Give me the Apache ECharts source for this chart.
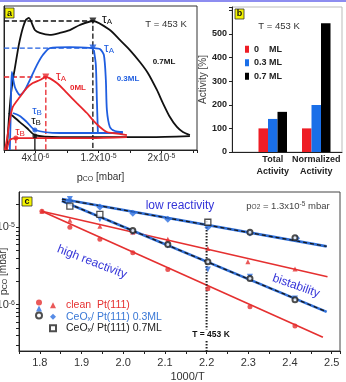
<!DOCTYPE html>
<html><head><meta charset="utf-8">
<script src="https://cdn.jsdelivr.net/npm/echarts@6/dist/echarts.min.js"></script>
<style>html,body{margin:0;padding:0;background:#fff}#c{width:346px;height:382px}</style>
</head><body><div id="c"></div>
<script>
// ---------- Panel a : rate (arb. units) vs pCO (units of 1e-6 mbar) ----------
const aBlackFwdX = [0.36,0.61,0.87,1.12,1.38,1.76,2.01,2.39,2.77,3.15,3.92,4.55,5.82,7.09,8.36,9.63,11.28,13.44,14.71,15.98,17.25,18.26,19.41,20.17,21.06,21.95,22.71,23.6];
const aBlackFwdY = [0,2.08,3.82,4.86,5.69,6.94,7.64,8.47,9.03,9.17,8.33,8.13,7.99,8.13,8.33,8.68,8.96,8.33,7.64,6.94,6.11,5.35,4.17,3.26,2.29,1.60,1.25,1.04];
const aBlackBackX = [23.6,18.52,12.17,7.09,3.92,2.90,2.01,1.12,0.61];
const aBlackBackY = [0.97,0.90,0.90,0.90,1.04,1.53,1.94,2.36,2.57];
const aBlueFwdX = [0.74,0.87,0.99,1.38,2.01,2.65,3.28,4.17,4.93,5.82,8.36,11.28,12.17,12.68,12.93,13.06,13.44,14.07,15.09];
const aBlueFwdY = [0,2.78,5.42,4.38,3.82,4.17,4.86,5.90,6.60,7.08,7.15,7.08,7.01,6.60,4.86,2.78,1.60,1.32,1.25];
const aBlueBackX = [15.09,11.92,7.09,3.92,2.90,2.01,1.12];
const aBlueBackY = [1.18,1.18,1.18,1.39,1.94,2.36,2.57];
const aBlueJumpX = [11.92,11.79,11.66,11.41];
const aBlueJumpY = [1.18,3.47,5.90,6.94];
const aRedFwdX = [0.1,0.36,0.74,1.12,2.01,2.90,3.66,4.55,5.31,6.71,7.98,9.25,10.52,11.28,12.17,13.06,13.82,15.60];
const aRedFwdY = [0,0.69,2.08,2.99,3.68,4.31,4.65,4.86,5.07,4.65,3.96,3.26,2.57,2.08,1.60,1.25,1.18,1.04];
const aRedBackX = [15.60,10.90,5.82,1.50,0.74,0.36];
const aRedBackY = [0.90,0.83,0.83,0.83,0.69,0];
// tau_A points (black, blue, red) and tau_B points (blue, black, red)
const aTauAX = [11.28, 11.28, 5.31];
const aTauAY = [8.96, 7.08, 5.07];
const aTauBX = [3.92, 3.92, 1.50];
const aTauBY = [1.39, 0.97, 0.83];
const aTickValues = [4, 12, 20];
const aTickMant = ['4x10', '1.2x10', '2x10'];
const aTickExp = ['-6', '-5', '-5'];

// ---------- Panel b : activity bars ----------
const bCategories = ['Total\nActivity', 'Normalized\nActivity'];
const bSeriesNames = ['0    ML', '0.3 ML', '0.7 ML'];
const b0ML = [100, 100];
const b03ML = [140, 199];
const b07ML = [170, 545];

// ---------- Panel c : Arrhenius-type plot, pCO (mbar) vs 1000/T ----------
const cRedUpX = [1.805,1.872,1.944,2.023,2.107,2.203,2.299,2.412];
const cRedUpY = [1.61e-5,1.23e-5,1.03e-5,8.6e-6,7.0e-6,5.3e-6,3.6e-6,2.9e-6];
const cRedLowX = [1.805,1.872,1.944,2.023,2.107,2.203,2.304,2.412];
const cRedLowY = [1.61e-5,1.0e-5,7.0e-6,4.7e-6,2.85e-6,1.61e-6,9.4e-7,5.3e-7];
const cBlueDiaX = [1.872,1.944,2.023,2.107,2.203,2.304,2.416];
const cBlueDiaY = [2.18e-5,1.82e-5,1.52e-5,1.27e-5,1.0e-5,8.4e-6,7.2e-6];
const cBlueTriX = [1.872,1.944,2.023,2.107,2.203,2.304,2.412];
const cBlueTriY = [2.31e-5,1.27e-5,8.6e-6,5.8e-6,2.85e-6,2.3e-6,1.2e-6];
const cBlackSqX = [1.872,1.944,2.203];
const cBlackSqY = [1.87e-5,1.47e-5,1.16e-5];
const cBlackCircX = [2.023,2.107,2.203,2.304,2.412,2.304,2.412];
const cBlackCircY = [9.1e-6,6.0e-6,3.6e-6,2.18e-6,1.16e-6,8.6e-6,7.3e-6];
// straight fit lines [start, end]
const cFitRedUpX = [1.805, 2.49];   const cFitRedUpY = [1.61e-5, 2.3e-6];
const cFitRedLowX = [1.805, 2.479]; const cFitRedLowY = [1.61e-5, 3.8e-7];
const cFitUpX = [1.853, 2.488];     const cFitUpY = [2.31e-5, 5.66e-6];
const cFitLowX = [1.853, 2.488];    const cFitLowY = [2.18e-5, 8.1e-7];
const cT453 = 2.2; const cT453Top = 1.2e-5;
const cXLabels = [1.8,1.9,2.0,2.1,2.2,2.3,2.4,2.5];
const cYLabels = [1e-6, 1e-5];
const cYTicks = [3e-7,4e-7,5e-7,6e-7,7e-7,8e-7,9e-7,1e-6,2e-6,3e-6,4e-6,5e-6,6e-6,7e-6,8e-6,9e-6,1e-5,2e-5];
const cYMin = 2.53e-7, cYMax = 2.85e-5;

// ---------- rendering ----------
const F = 'Liberation Sans, Arial, sans-serif';
const pts = (xs, ys) => xs.map((x, i) => [x, ys[i]]);
const A_BLACK = '#111', A_BLUE = '#1f5ee0', A_RED = '#e8252b';
const C_RED = '#e53030', C_BLUE = '#2f6fd8', C_BLACK = '#1a1a1a';

function aLine(xs, ys, color, w) {
  return {type:'line', xAxisIndex:0, yAxisIndex:0, data:pts(xs, ys), symbol:'none', smooth:0.25,
    lineStyle:{color, width:w||1.8}, silent:true, z:3};
}
function aGuide(data, color, type) {
  return {type:'line', xAxisIndex:0, yAxisIndex:0, data, symbol:'none',
    lineStyle:{color, width:1.3, type: type || 'dashed'}, silent:true, z:2};
}
const aColorsA = [A_BLACK, A_BLUE, A_RED];
const aColorsB = [A_BLUE, A_BLACK, A_RED];

const series = [
  aLine(aBlackFwdX, aBlackFwdY, A_BLACK),
  aLine(aBlackBackX, aBlackBackY, A_BLACK),
  aLine(aBlueFwdX, aBlueFwdY, A_BLUE),
  aLine(aBlueBackX, aBlueBackY, A_BLUE),
  aLine(aBlueJumpX, aBlueJumpY, A_BLUE),
  aLine(aRedFwdX, aRedFwdY, A_RED),
  aLine(aRedBackX, aRedBackY, A_RED),
  aGuide([[0, aTauAY[0]], [aTauAX[0], aTauAY[0]], [aTauAX[0], 0]], A_BLACK),
  aGuide([[0, aTauAY[1]], [aTauAX[1], aTauAY[1]]], A_BLUE),
  aGuide([[0, aTauAY[2]], [aTauAX[2], aTauAY[2]], [aTauAX[2], 0]], A_RED),
  aGuide([[aTauBX[1], aTauBY[1]], [aTauBX[1], 0]], A_BLACK, 'solid'),
  aGuide([[aTauBX[2], aTauBY[2]], [aTauBX[2], 0]], A_RED),
  {type:'scatter', xAxisIndex:0, yAxisIndex:0, data:pts(aTauAX, aTauAY).map((p,i)=>({value:p, itemStyle:{color:aColorsA[i]}})),
    symbol:'triangle', symbolRotate:180, symbolSize:7, z:5, silent:true},
  {type:'scatter', xAxisIndex:0, yAxisIndex:0, data:pts(aTauBX, aTauBY).map((p,i)=>({value:p, itemStyle:{color:aColorsB[i]}})),
    symbol:'circle', symbolSize:5, z:5, silent:true},
  {type:'bar', name:bSeriesNames[0], xAxisIndex:2, yAxisIndex:2, data:b0ML, barWidth:9.5, barGap:'0%', itemStyle:{color:'#ee1d25'}},
  {type:'bar', name:bSeriesNames[1], xAxisIndex:2, yAxisIndex:2, data:b03ML, barWidth:9.5, barGap:'0%', itemStyle:{color:'#1a6fe8'}},
  {type:'bar', name:bSeriesNames[2], xAxisIndex:2, yAxisIndex:2, data:b07ML, barWidth:9.5, barGap:'0%', itemStyle:{color:'#000'}},
];

function cLine(xs, ys, color, w, type, z) {
  return {type:'line', xAxisIndex:3, yAxisIndex:3, data:pts(xs, ys), symbol:'none',
    lineStyle:{color, width:w, type:type||'solid'}, silent:true, z:z||2};
}
series.push(
  cLine(cFitRedUpX, cFitRedUpY, C_RED, 1.6),
  cLine(cFitRedLowX, cFitRedLowY, C_RED, 1.6),
  cLine(cFitUpX, cFitUpY, C_BLUE, 2.6),
  cLine(cFitLowX, cFitLowY, C_BLUE, 2.6),
  cLine(cFitUpX, cFitUpY, C_BLACK, 1.3, [4, 3], 3),
  cLine(cFitLowX, cFitLowY, C_BLACK, 1.3, [4, 3], 3),
  cLine([cT453, cT453], [cT453Top, cYMin], '#222', 2, [1.5, 1.5], 2),
  {type:'scatter', name:'cleanCircle', xAxisIndex:3, yAxisIndex:3, data:pts(cRedLowX, cRedLowY), symbol:'circle', symbolSize:5, itemStyle:{color:C_RED}, z:4},
  {type:'scatter', name:'cleanTriangle', xAxisIndex:3, yAxisIndex:3, data:pts(cRedUpX, cRedUpY), symbol:'triangle', symbolSize:5, itemStyle:{color:C_RED}, z:4},
  {type:'scatter', name:'c03Tri', xAxisIndex:3, yAxisIndex:3, data:pts(cBlueTriX, cBlueTriY), symbol:'triangle', symbolRotate:180, symbolSize:6, itemStyle:{color:'#2d6fe0'}, z:5},
  {type:'scatter', name:'c03Dia', xAxisIndex:3, yAxisIndex:3, data:pts(cBlueDiaX, cBlueDiaY), symbol:'diamond', symbolSize:7, itemStyle:{color:'#2d6fe0'}, z:5},
  {type:'scatter', name:'c07Circ', xAxisIndex:3, yAxisIndex:3, data:pts(cBlackCircX, cBlackCircY), symbol:'emptyCircle', symbolSize:5, itemStyle:{color:'#222', borderWidth:1.3}, z:6},
  {type:'scatter', name:'c07Sq', xAxisIndex:3, yAxisIndex:3, data:pts(cBlackSqX, cBlackSqY), symbol:'rect', symbolSize:6, itemStyle:{color:'#fff', borderColor:'#222', borderWidth:1.3}, z:6}
);

const legendText = {
  cleanTriangle: '{r|clean  Pt(111)}',
  c03Dia: '{b|CeO}{bs|x}{b|/ Pt(111) 0.3ML}',
  c07Sq: '{k|CeO}{ks|x}{k|/ Pt(111) 0.7ML}'
};

const option = {
  animation:false,
  backgroundColor:'#fff',
  textStyle:{fontFamily:F},
  grid:[
    {left:4, top:6, width:193, height:144, show:true, borderColor:'#333', borderWidth:1, outerBoundsMode:'none'},
    {left:232, top:7, width:110, height:145, show:true, borderColor:'#bbb', borderWidth:1, outerBoundsMode:'none'},
    {left:251, top:7, width:87, height:145, outerBoundsMode:'none'},
    {left:19, top:192, width:321, height:159, show:true, borderColor:'#444', borderWidth:1, outerBoundsMode:'none'}
  ],
  xAxis:[
    {type:'value', gridIndex:0, min:0, max:24.5, interval:4,
      axisLine:{lineStyle:{color:'#222'}}, axisTick:{length:3, lineStyle:{color:'#222'}}, splitLine:{show:false},
      axisLabel:{margin:3, color:'#333', fontFamily:F,
        formatter:v => { const i = aTickValues.findIndex(t => Math.abs(t - v) < 1e-9); return i < 0 ? '' : '{m|' + aTickMant[i] + '}{e|' + aTickExp[i] + '}'; },
        rich:{m:{fontSize:10, color:'#333', fontFamily:F}, e:{fontSize:7, color:'#333', verticalAlign:'top', fontFamily:F}}},
      name:'{p|p}{s|CO}{n| [mbar]}', nameLocation:'middle', nameGap:22, nameMoveOverlap:false,
      nameTextStyle:{rich:{p:{fontSize:11, color:'#333', fontFamily:F}, s:{fontSize:7, color:'#333', verticalAlign:'bottom', fontFamily:F}, n:{fontSize:10, color:'#333', fontFamily:F}}}},
    {type:'value', gridIndex:1, min:0, max:1, axisLine:{lineStyle:{color:'#222'}}, axisTick:{show:false}, axisLabel:{show:false}, splitLine:{show:false}},
    {type:'category', gridIndex:2, data:bCategories, axisLine:{show:false}, axisTick:{show:false},
      axisLabel:{interval:0, margin:2, fontSize:9, fontWeight:'bold', color:'#222', lineHeight:12, fontFamily:F}},
    {type:'value', gridIndex:3, min:1.75, max:2.52, interval:0.05,
      axisLine:{lineStyle:{color:'#222'}}, axisTick:{length:3, lineStyle:{color:'#222'}}, splitLine:{show:false},
      axisLabel:{margin:6, fontSize:11, color:'#333', fontFamily:F,
        formatter:v => { const l = cXLabels.find(t => Math.abs(t - v) < 1e-6); return l === undefined ? '' : l.toFixed(1); }},
      name:'1000/T', nameLocation:'middle', nameGap:20, nameMoveOverlap:false, nameTextStyle:{fontSize:11, color:'#333', padding:[0,0,0,16]}}
  ],
  yAxis:[
    {type:'value', gridIndex:0, min:0, max:10, axisLine:{show:true, lineStyle:{color:'#222'}}, axisTick:{show:false}, axisLabel:{show:false}, splitLine:{show:false}},
    {type:'value', gridIndex:1, min:0, max:614, interval:100,
      axisLine:{show:true, lineStyle:{color:'#222'}}, axisTick:{length:3, lineStyle:{color:'#222'}}, splitLine:{show:false},
      axisLabel:{fontSize:9, fontWeight:'bold', color:'#222', margin:5, fontFamily:F, formatter:v => v > 500 ? '' : String(v)},
      name:'Activity [%]', nameLocation:'middle', nameGap:24, nameMoveOverlap:false, nameTextStyle:{fontSize:10, color:'#444'}},
    {type:'value', gridIndex:2, min:0, max:614, show:false},
    {type:'log', gridIndex:3, min:cYMin, max:cYMax, logBase:10,
      axisLine:{show:true, lineStyle:{color:'#222'}}, splitLine:{show:false},
      axisTick:{length:3, customValues:cYTicks, lineStyle:{color:'#222'}},
      axisLabel:{margin:4, customValues:cYLabels, fontFamily:F,
        formatter:v => '{m|10}{e|' + Math.round(Math.log10(v)) + '}',
        rich:{m:{fontSize:11, color:'#333', fontFamily:F}, e:{fontSize:7, color:'#333', verticalAlign:'top', fontFamily:F}}},
      name:'{p|p}{s|CO}{n| [mbar]}', nameLocation:'middle', nameGap:10, nameMoveOverlap:false,
      nameTextStyle:{rich:{p:{fontSize:11, color:'#333', fontFamily:F}, s:{fontSize:7, color:'#333', verticalAlign:'bottom', fontFamily:F}, n:{fontSize:10, color:'#333', fontFamily:F}}}}
  ],
  legend:[
    {data:bSeriesNames, orient:'vertical', left:245, top:43, padding:0, itemWidth:4, itemHeight:7, itemGap:1, icon:'rect', selectedMode:false,
      textStyle:{fontSize:9, fontWeight:'bold', color:'#222', lineHeight:12.5, fontFamily:F}},
    {data:['cleanCircle','c03Tri','c07Circ'], orient:'vertical', left:35, top:299.5, padding:0, itemWidth:6, itemHeight:6, itemGap:0, selectedMode:false,
      formatter:() => '', textStyle:{fontSize:10.5, lineHeight:11.5}},
    {data:['cleanTriangle','c03Dia','c07Sq'], orient:'vertical', left:49, top:299.5, padding:0, itemWidth:6, itemHeight:6, itemGap:0, selectedMode:false,
      formatter:n => legendText[n],
      textStyle:{fontSize:10.5, lineHeight:11.5, fontFamily:F, padding:[0,0,0,5],
        rich:{r:{color:'#e53030', fontSize:10.5, fontFamily:F}, b:{color:'#3a78d6', fontSize:10.5, fontFamily:F}, bs:{color:'#3a78d6', fontSize:7, verticalAlign:'bottom', fontFamily:F},
              k:{color:'#222', fontSize:10.5, fontFamily:F}, ks:{color:'#222', fontSize:7, verticalAlign:'bottom', fontFamily:F}}}}
  ],
  series,
  graphic:[
    {type:'rect', shape:{x:0, y:0, width:346, height:2}, style:{fill:'#8d8df0'}, z:10},
    {type:'rect', shape:{x:5, y:8, width:9, height:10}, style:{fill:'#f4f400', stroke:'#333', lineWidth:0.8}, z:10},
    {type:'text', x:9.5, y:13.5, style:{text:'a', fontSize:9, fontWeight:'bold', fill:'#111', align:'center', verticalAlign:'middle', fontFamily:F}, z:11},
    {type:'rect', shape:{x:235, y:9, width:9, height:10}, style:{fill:'#f4f400', stroke:'#333', lineWidth:0.8}, z:10},
    {type:'text', x:239.5, y:14, style:{text:'b', fontSize:9, fontWeight:'bold', fill:'#111', align:'center', verticalAlign:'middle', fontFamily:F}, z:11},
    {type:'rect', shape:{x:22, y:197, width:10, height:9}, style:{fill:'#f4f400', stroke:'#333', lineWidth:0.8}, z:10},
    {type:'text', x:27, y:201.5, style:{text:'c', fontSize:9, fontWeight:'bold', fill:'#111', align:'center', verticalAlign:'middle', fontFamily:F}, z:11},
    {type:'text', x:107, y:20, style:{text:'{t|τ}{s|A}', align:'center', verticalAlign:'middle', rich:{t:{fontSize:12, fill:A_BLACK, fontFamily:F}, s:{fontSize:8, fill:A_BLACK, verticalAlign:'bottom', fontFamily:F}}}, z:11},
    {type:'text', x:109, y:49, style:{text:'{t|τ}{s|A}', align:'center', verticalAlign:'middle', rich:{t:{fontSize:12, fill:A_BLUE, fontFamily:F}, s:{fontSize:8, fill:A_BLUE, verticalAlign:'bottom', fontFamily:F}}}, z:11},
    {type:'text', x:61, y:77, style:{text:'{t|τ}{s|A}', align:'center', verticalAlign:'middle', rich:{t:{fontSize:12, fill:A_RED, fontFamily:F}, s:{fontSize:8, fill:A_RED, verticalAlign:'bottom', fontFamily:F}}}, z:11},
    {type:'text', x:37, y:111, style:{text:'{t|τ}{s|B}', align:'center', verticalAlign:'middle', rich:{t:{fontSize:11, fill:A_BLUE, fontFamily:F}, s:{fontSize:8, fill:A_BLUE, verticalAlign:'bottom', fontFamily:F}}}, z:11},
    {type:'text', x:36, y:121, style:{text:'{t|τ}{s|B}', align:'center', verticalAlign:'middle', rich:{t:{fontSize:11, fill:A_BLACK, fontFamily:F}, s:{fontSize:8, fill:A_BLACK, verticalAlign:'bottom', fontFamily:F}}}, z:11},
    {type:'text', x:20, y:132, style:{text:'{t|τ}{s|B}', align:'center', verticalAlign:'middle', rich:{t:{fontSize:11, fill:A_RED, fontFamily:F}, s:{fontSize:8, fill:A_RED, verticalAlign:'bottom', fontFamily:F}}}, z:11},
    {type:'text', x:166, y:24, style:{text:'T = 453 K', fontSize:9.5, fill:'#333', align:'center', verticalAlign:'middle', fontFamily:F}, z:11},
    {type:'text', x:164, y:62, style:{text:'0.7ML', fontSize:8, fontWeight:'bold', fill:'#111', align:'center', verticalAlign:'middle', fontFamily:F}, z:11},
    {type:'text', x:128, y:79, style:{text:'0.3ML', fontSize:8, fontWeight:'bold', fill:A_BLUE, align:'center', verticalAlign:'middle', fontFamily:F}, z:11},
    {type:'text', x:78, y:88, style:{text:'0ML', fontSize:8, fontWeight:'bold', fill:A_RED, align:'center', verticalAlign:'middle', fontFamily:F}, z:11},
    {type:'text', x:279, y:26, style:{text:'T = 453 K', fontSize:9.5, fill:'#333', align:'center', verticalAlign:'middle', fontFamily:F}, z:11},
    {type:'text', x:288, y:206, style:{text:'{n|p}{s|O2}{n| = 1.3x10}{e|-5}{n| mbar}', align:'center', verticalAlign:'middle',
      rich:{n:{fontSize:9.5, fill:'#444', fontFamily:F}, s:{fontSize:6.5, fill:'#444', verticalAlign:'bottom', fontFamily:F}, e:{fontSize:6.5, fill:'#444', verticalAlign:'top', fontFamily:F}}}, z:11},
    {type:'text', x:180, y:206, style:{text:'low reactivity', fontSize:12, fill:'#3535d8', align:'center', verticalAlign:'middle', fontFamily:F}, z:11},
    {type:'text', x:92, y:262, rotation:-0.37, style:{text:'high reactivity', fontSize:12, fill:'#3535d8', align:'center', verticalAlign:'middle', fontFamily:F}, z:11},
    {type:'text', x:296, y:286, rotation:-0.34, style:{text:'bistability', fontSize:12, fill:'#3535d8', align:'center', verticalAlign:'middle', fontFamily:F}, z:11},
    {type:'text', x:211, y:335, style:{text:'T = 453 K', fontSize:8.5, fontWeight:'bold', fill:'#111', align:'center', verticalAlign:'middle', backgroundColor:'#fff', padding:[1,1], fontFamily:F}, z:11}
  ]
};
const chart = echarts.init(document.getElementById('c'));
chart.setOption(option);
</script>
</body></html>
